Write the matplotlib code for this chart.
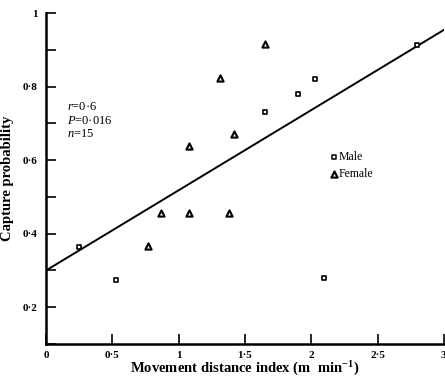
import matplotlib
matplotlib.use("Agg")
import matplotlib.pyplot as plt
import numpy as np

plt.rcParams['font.family'] = ['Liberation Serif', 'DejaVu Serif']
plt.rcParams['mathtext.fontset'] = 'custom'
plt.rcParams['mathtext.rm'] = 'Liberation Serif:bold'
plt.rcParams['mathtext.it'] = 'Liberation Serif:italic'

male_x = [0.25, 0.53, 1.65, 1.90, 2.03, 2.10, 2.80]
male_y = [0.365, 0.275, 0.73, 0.78, 0.82, 0.28, 0.913]
female_x = [0.77, 0.87, 1.08, 1.08, 1.31, 1.38, 1.42, 1.65]
female_y = [0.366, 0.456, 0.456, 0.638, 0.823, 0.456, 0.671, 0.915]
fit_intercept = 0.30
fit_slope = 0.218
xticks = [0, 0.5, 1, 1.5, 2, 2.5, 3]
xtick_labels = ['0', '0·5', '1', '1·5', '2', '2·5', '3']
yticks = [0.2, 0.4, 0.6, 0.8, 1.0]
ytick_labels = ['0·2', '0·4', '0·6', '0·8', '1']

fig = plt.figure(figsize=(4.45, 3.78), dpi=100)
ax = fig.add_axes([0.1034, 0.0899, 0.894, 0.8757])

fx = np.array([0, 3])
ax.plot(fx, fit_intercept + fit_slope * fx, color='black', lw=1.4, zorder=2)
ax.scatter(male_x, male_y, marker='s', s=9, facecolors='white', edgecolors='black', linewidths=1.2, zorder=3)
ax.scatter(female_x, female_y, marker='^', s=20, facecolors='white', edgecolors='black', linewidths=1.5, zorder=3)

ax.set_xlim(0, 3)
ax.set_ylim(0.1, 1.0)
for s in ['top', 'right']:
    ax.spines[s].set_visible(False)
for s in ['left', 'bottom']:
    ax.spines[s].set_linewidth(1.8)

ax.set_xticks(xticks)
ax.set_xticklabels(xtick_labels)
ax.set_yticks(yticks)
ax.set_yticklabels(ytick_labels)
ax.set_yticks(np.arange(0.1, 1.0, 0.2), minor=True)
ax.tick_params(axis='both', which='both', direction='in', length=7, width=1.2, labelsize=8)
ax.tick_params(axis='y', which='major', pad=6)
ax.tick_params(axis='x', which='major', pad=5)
for lbl in ax.get_xticklabels() + ax.get_yticklabels():
    lbl.set_fontweight('bold')

ax.set_xlabel('Movement distance index (m  min$^{-1}$)', fontsize=10.5, fontweight='bold', labelpad=0)
ax.set_ylabel('Capture probability', fontsize=10.5, fontweight='bold', labelpad=6)

ax.text(0.16, 0.745, '$r$=0·6', fontsize=9, va='center')
ax.text(0.16, 0.707, '$P$=0·016', fontsize=9, va='center')
ax.text(0.16, 0.670, '$n$=15', fontsize=9, va='center')

ax.scatter([2.17], [0.608], marker='s', s=8, facecolors='white', edgecolors='black', linewidths=1.1, clip_on=False)
ax.text(2.21, 0.608, 'Male', fontsize=8.5, va='center')
ax.scatter([2.17], [0.562], marker='^', s=20, facecolors='white', edgecolors='black', linewidths=1.5, clip_on=False)
ax.text(2.21, 0.562, 'Female', fontsize=8.5, va='center')

fig.savefig('out.png', dpi=100)
